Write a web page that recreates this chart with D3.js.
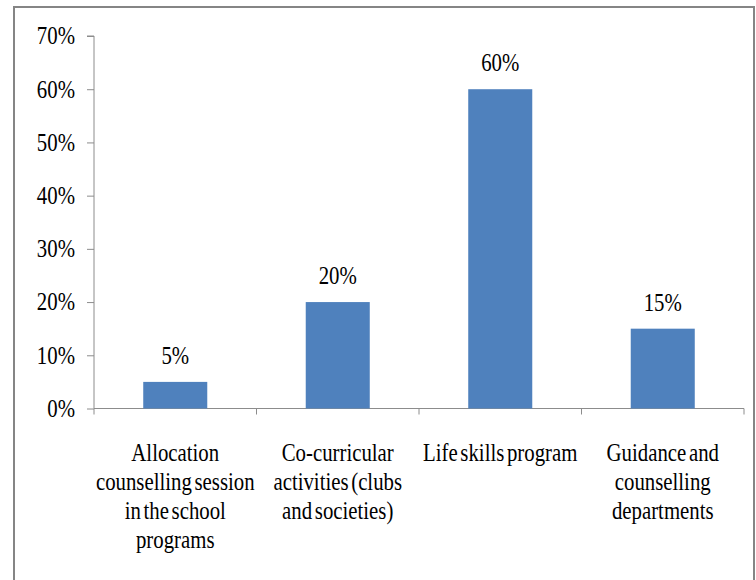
<!DOCTYPE html>
<html>
<head>
<meta charset="utf-8">
<script src="https://cdn.jsdelivr.net/npm/d3@7"></script>
<style>
  html, body { margin: 0; padding: 0; background: #fff; }
  svg { display: block; }
</style>
</head>
<body>
<svg id="chart" width="756" height="580"></svg>
<script>
// Categories (multi-line labels) and their percentage values
const categories = [
  ["Allocation", "counselling session", "in the school", "programs"],
  ["Co-curricular", "activities (clubs", "and societies)"],
  ["Life skills program"],
  ["Guidance and", "counselling", "departments"]
];
const values = [5, 20, 60, 15];
const yTicks = [0, 10, 20, 30, 40, 50, 60, 70];

const FONT = "'Liberation Serif', 'Times New Roman', Tinos, 'DejaVu Serif', serif";
const FS = 24.5;      // font size
const SX = 0.85;      // narrow type: horizontal scale
const svg = d3.select("#chart");
const axisColor = "#8c8c8c";

// Outer frame
svg.append("rect")
  .attr("x", 14).attr("y", 7)
  .attr("width", 740).attr("height", 620)
  .attr("fill", "none")
  .attr("stroke", "#858585")
  .attr("stroke-width", 2);

const x0 = 94, x1 = 744, yTop = 36, yBottom = 408.5;
const ids = categories.map((_, i) => i);

const x = d3.scaleBand().domain(ids).range([x0, x1]).padding(0);
const y = d3.scaleLinear().domain([0, 70]).range([yBottom, yTop]);

// Places a narrow text at (px, py)
function narrow(sel, px, py) {
  sel.attr("x", 0).attr("y", 0)
    .attr("transform", (d, i) => `translate(${px(d, i)},${py(d, i)}) scale(${SX},1)`);
}

// Y axis
const yAxis = d3.axisLeft(y)
  .tickValues(yTicks)
  .tickFormat(d => d + "%")
  .tickSize(7)
  .tickPadding(12);
const gy = svg.append("g").attr("transform", `translate(${x0},0)`).call(yAxis)
  .attr("font-family", FONT).attr("font-size", FS);
gy.select(".domain").attr("stroke", axisColor).attr("d", `M-7,${yTop}H0V${yBottom}`);
gy.selectAll(".tick line").attr("stroke", axisColor);
gy.selectAll(".tick text").attr("fill", "#000")
  .call(narrow, () => -19, () => 0);

// X axis line with tick marks at category boundaries
const gx = svg.append("g");
gx.append("line")
  .attr("x1", x0).attr("x2", x1)
  .attr("y1", yBottom).attr("y2", yBottom)
  .attr("stroke", axisColor);
const bounds = ids.map(i => x(i)).concat([x1]);
gx.selectAll("line.tk").data(bounds).join("line")
  .attr("class", "tk")
  .attr("x1", d => d).attr("x2", d => d)
  .attr("y1", yBottom).attr("y2", yBottom + 6)
  .attr("stroke", axisColor);

// Bars
const barW = x.bandwidth() * 0.394;
svg.selectAll("rect.bar").data(values).join("rect")
  .attr("class", "bar")
  .attr("x", (d, i) => x(i) + (x.bandwidth() - barW) / 2)
  .attr("y", d => y(d))
  .attr("width", barW)
  .attr("height", d => y(0) - y(d))
  .attr("fill", "#4F81BD");

// Value labels
svg.selectAll("text.val").data(values).join("text")
  .attr("class", "val")
  .attr("text-anchor", "middle")
  .attr("font-family", FONT)
  .attr("font-size", FS)
  .call(narrow, (d, i) => x(i) + x.bandwidth() / 2, d => y(d) - 18)
  .text(d => d + "%");

// Category labels
const cat = svg.selectAll("text.cat").data(categories).join("text")
  .attr("class", "cat")
  .attr("text-anchor", "middle")
  .attr("font-family", FONT)
  .attr("font-size", FS)
  .attr("word-spacing", -3)
  .call(narrow, (d, i) => x(i) + x.bandwidth() / 2, () => 461);
cat.each(function (lines) {
  d3.select(this).selectAll("tspan").data(lines).join("tspan")
    .attr("x", 0)
    .attr("y", (d, j) => j * 29)
    .text(d => d);
});
</script>
</body>
</html>
